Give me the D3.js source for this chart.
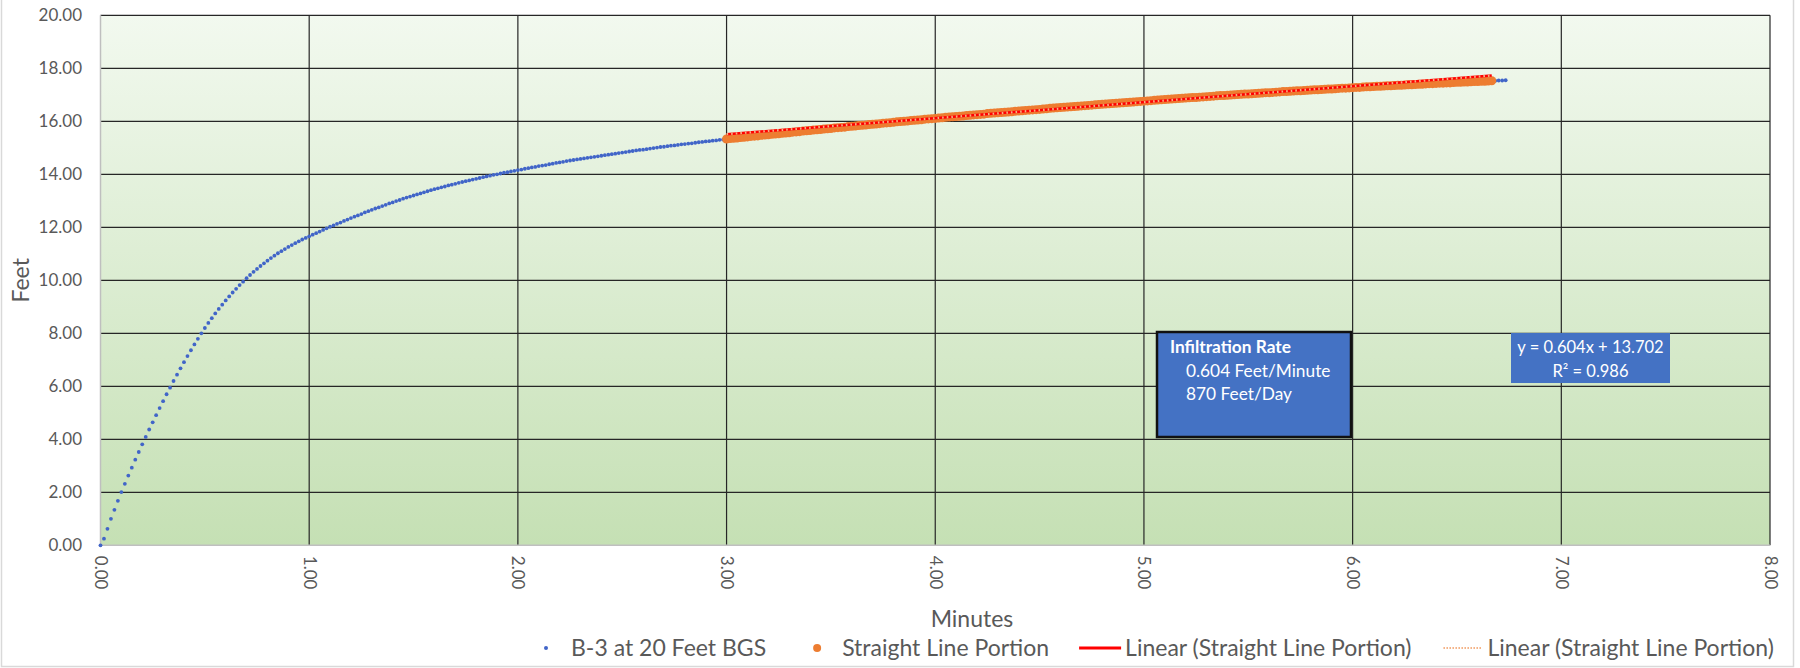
<!DOCTYPE html>
<html>
<head>
<meta charset="utf-8">
<script src="https://cdn.jsdelivr.net/npm/d3@7"></script>
<style>
  body { margin: 0; background: #fff; }
  text { font-family: Lato, "Open Sans", sans-serif; }
</style>
</head>
<body>
<svg id="chart"></svg>
<script>
// readings taken once per second (feet)
const sampleSeconds = 1;
const depthFeet = [
  0.00, 0.25, 0.62, 1.00, 1.34, 1.68, 2.01, 2.32, 2.63, 2.93, 3.23, 3.52, 3.81, 4.09, 4.37, 4.64, 4.91, 5.18, 5.44, 5.70,
  5.95, 6.20, 6.44, 6.68, 6.91, 7.14, 7.36, 7.58, 7.79, 8.00, 8.20, 8.39, 8.57, 8.75, 8.92, 9.08, 9.24, 9.39, 9.54, 9.68,
  9.82, 9.95, 10.08, 10.20, 10.32, 10.43, 10.54, 10.64, 10.74, 10.84, 10.93, 11.02, 11.10, 11.18, 11.26, 11.33, 11.40, 11.47, 11.54, 11.60,
  11.66, 11.72, 11.78, 11.84, 11.90, 11.96, 12.02, 12.07, 12.13, 12.18, 12.24, 12.29, 12.35, 12.40, 12.45, 12.50, 12.56, 12.61, 12.66, 12.71,
  12.75, 12.80, 12.85, 12.90, 12.94, 12.99, 13.03, 13.08, 13.12, 13.16, 13.20, 13.24, 13.28, 13.32, 13.36, 13.40, 13.44, 13.47, 13.51, 13.54,
  13.58, 13.61, 13.64, 13.68, 13.71, 13.74, 13.77, 13.80, 13.83, 13.86, 13.89, 13.92, 13.95, 13.98, 14.00, 14.03, 14.06, 14.08, 14.11, 14.13,
  14.16, 14.18, 14.21, 14.23, 14.26, 14.28, 14.31, 14.33, 14.35, 14.38, 14.40, 14.43, 14.45, 14.47, 14.50, 14.52, 14.54, 14.56, 14.58, 14.60,
  14.62, 14.64, 14.66, 14.68, 14.70, 14.72, 14.74, 14.76, 14.78, 14.80, 14.82, 14.84, 14.86, 14.88, 14.90, 14.92, 14.93, 14.95, 14.97, 14.99,
  15.01, 15.03, 15.04, 15.06, 15.08, 15.09, 15.11, 15.13, 15.14, 15.16, 15.17, 15.19, 15.21, 15.22, 15.24, 15.25, 15.27, 15.28, 15.30, 15.31,
  15.33, 15.35, 15.36, 15.37, 15.39, 15.40, 15.41, 15.43, 15.44, 15.45, 15.47, 15.48, 15.49, 15.51, 15.52, 15.53, 15.55, 15.56, 15.57, 15.59,
  15.60, 15.61, 15.63, 15.64, 15.65, 15.67, 15.68, 15.69, 15.71, 15.72, 15.73, 15.75, 15.76, 15.77, 15.78, 15.80, 15.81, 15.82, 15.84, 15.85,
  15.86, 15.88, 15.89, 15.90, 15.91, 15.93, 15.94, 15.95, 15.96, 15.98, 15.99, 16.00, 16.01, 16.03, 16.04, 16.05, 16.06, 16.08, 16.09, 16.10,
  16.11, 16.12, 16.13, 16.15, 16.16, 16.17, 16.18, 16.19, 16.20, 16.22, 16.23, 16.24, 16.25, 16.26, 16.27, 16.29, 16.30, 16.31, 16.32, 16.33,
  16.34, 16.35, 16.36, 16.38, 16.39, 16.40, 16.41, 16.42, 16.43, 16.44, 16.45, 16.46, 16.47, 16.49, 16.50, 16.51, 16.52, 16.53, 16.54, 16.55,
  16.56, 16.57, 16.58, 16.59, 16.60, 16.61, 16.62, 16.63, 16.64, 16.65, 16.66, 16.67, 16.68, 16.69, 16.70, 16.71, 16.72, 16.73, 16.74, 16.75,
  16.76, 16.77, 16.78, 16.79, 16.80, 16.81, 16.82, 16.83, 16.84, 16.85, 16.86, 16.87, 16.88, 16.89, 16.90, 16.90, 16.91, 16.92, 16.93, 16.94,
  16.95, 16.96, 16.97, 16.97, 16.98, 16.99, 17.00, 17.01, 17.02, 17.03, 17.03, 17.04, 17.05, 17.06, 17.07, 17.08, 17.08, 17.09, 17.10, 17.11,
  17.12, 17.12, 17.13, 17.14, 17.15, 17.15, 17.16, 17.17, 17.18, 17.19, 17.19, 17.20, 17.21, 17.22, 17.22, 17.23, 17.24, 17.25, 17.25, 17.26,
  17.27, 17.28, 17.28, 17.29, 17.30, 17.30, 17.31, 17.32, 17.32, 17.33, 17.34, 17.34, 17.35, 17.36, 17.36, 17.37, 17.38, 17.38, 17.39, 17.40,
  17.40, 17.41, 17.42, 17.42, 17.43, 17.44, 17.44, 17.45, 17.45, 17.46, 17.47, 17.47, 17.48, 17.48, 17.49, 17.50, 17.50, 17.51, 17.51, 17.52,
  17.53, 17.53, 17.54, 17.54, 17.55
];
// straight line portion = seconds 180..400 of the same record
const straightStartSec = 180, straightEndSec = 400;

const trendSlope = 0.604, trendIntercept = 13.702, rSquared = 0.986;
const infiltrationLines = ["Infiltration Rate", "0.604 Feet/Minute", "870 Feet/Day"];

const xTicks = [0, 1, 2, 3, 4, 5, 6, 7, 8];
const yTicks = [0, 2, 4, 6, 8, 10, 12, 14, 16, 18, 20];
const legendLabels = ["B-3 at 20 Feet BGS", "Straight Line Portion", "Linear (Straight Line Portion)", "Linear (Straight Line Portion)"];

const width = 1800, height = 668;
const margin = {top: 15.3, right: 30, bottom: 122.7, left: 100.5};
const blue = "#4165c8", orange = "#ED7D31", red = "#FF0000", textGray = "#595959";

const allPoints = depthFeet.map((v, i) => ({min: i * sampleSeconds / 60, ft: v}));
const straightPoints = allPoints.filter((d, i) => i * sampleSeconds >= straightStartSec && i * sampleSeconds <= straightEndSec);

const svg = d3.select("#chart").attr("width", width).attr("height", height);

const x = d3.scaleLinear().domain([0, 8]).range([margin.left, width - margin.right]);
const y = d3.scaleLinear().domain([0, 20]).range([height - margin.bottom, margin.top]);

// background gradient of the plot area
const grad = svg.append("defs").append("linearGradient")
    .attr("id", "plotBg").attr("x1", 0).attr("y1", 0).attr("x2", 0).attr("y2", 1);
grad.append("stop").attr("offset", "0%").attr("stop-color", "#f2f9ef");
grad.append("stop").attr("offset", "100%").attr("stop-color", "#c5e0b4");

// outer chart border
svg.append("rect")
    .attr("x", 1.5).attr("y", -20).attr("width", 1792).attr("height", 686.5)
    .attr("fill", "none").attr("stroke", "#d9d9d9").attr("stroke-width", 1.5);

svg.append("rect")
    .attr("x", x(0)).attr("y", y(20))
    .attr("width", x(8) - x(0)).attr("height", y(0) - y(20))
    .attr("fill", "url(#plotBg)");

// gridlines
svg.append("g").selectAll("line")
    .data(yTicks.filter(d => d > 0))
    .enter().append("line")
    .attr("x1", x(0)).attr("x2", x(8))
    .attr("y1", d => y(d)).attr("y2", d => y(d))
    .attr("stroke", "#262626").attr("stroke-width", 1.2);

svg.append("g").selectAll("line")
    .data(xTicks.filter(d => d > 0))
    .enter().append("line")
    .attr("x1", d => x(d)).attr("x2", d => x(d))
    .attr("y1", y(0)).attr("y2", y(20))
    .attr("stroke", "#262626").attr("stroke-width", 1.2);

// axis lines
svg.append("line").attr("x1", x(0)).attr("x2", x(8)).attr("y1", y(0)).attr("y2", y(0))
    .attr("stroke", "#bfbfbf").attr("stroke-width", 1.5);
svg.append("line").attr("x1", x(0)).attr("x2", x(0)).attr("y1", y(0)).attr("y2", y(20))
    .attr("stroke", "#bfbfbf").attr("stroke-width", 1.5);

// y axis
const yAxis = svg.append("g")
    .attr("transform", `translate(${x(0)},0)`)
    .call(d3.axisLeft(y).tickValues(yTicks).tickFormat(d3.format(".2f")).tickSize(0).tickPadding(18.5));
yAxis.select(".domain").remove();
yAxis.selectAll("text").attr("font-size", 17).attr("fill", textGray).style("font-family", "Lato");

// x axis, labels turned to read downward
const xAxis = svg.append("g")
    .attr("transform", `translate(0,${y(0)})`)
    .call(d3.axisBottom(x).tickValues(xTicks).tickFormat(d3.format(".2f")).tickSize(0));
xAxis.select(".domain").remove();
xAxis.selectAll("text")
    .attr("x", 10.5).attr("y", 0).attr("dy", "0.35em")
    .attr("transform", "rotate(90)")
    .style("text-anchor", "start").style("font-family", "Lato")
    .attr("font-size", 17).attr("fill", textGray);

// axis titles
svg.append("text")
    .attr("transform", `translate(29,${(y(0) + y(20)) / 2}) rotate(-90)`)
    .attr("text-anchor", "middle")
    .attr("font-size", 23).attr("fill", textGray)
    .text("Feet");

svg.append("text")
    .attr("x", 972).attr("y", 627)
    .attr("text-anchor", "middle")
    .attr("font-size", 23).attr("fill", textGray)
    .text("Minutes");

// series
svg.append("g").selectAll("circle")
    .data(allPoints)
    .enter().append("circle")
    .attr("cx", d => x(d.min))
    .attr("cy", d => y(d.ft))
    .attr("r", 1.9)
    .attr("fill", blue);

svg.append("g").selectAll("circle")
    .data(straightPoints)
    .enter().append("circle")
    .attr("cx", d => x(d.min))
    .attr("cy", d => y(d.ft))
    .attr("r", 4.5)
    .attr("fill", orange);

// trendlines over the straight portion
const trendExtent = d3.extent(straightPoints, d => d.min);
const trend = trendExtent.map(m => ({min: m, ft: trendSlope * m + trendIntercept}));
const trendLine = d3.line().x(d => x(d.min)).y(d => y(d.ft));

svg.append("path").datum(trend)
    .attr("d", trendLine)
    .attr("fill", "none").attr("stroke", red).attr("stroke-width", 2.5);

svg.append("path").datum(trend)
    .attr("d", trendLine)
    .attr("fill", "none").attr("stroke", "#f4b183").attr("stroke-width", 2.2)
    .attr("stroke-dasharray", "1.6 3");

// infiltration rate box
const infoBox = svg.append("g");
infoBox.append("rect")
    .attr("x", 1157).attr("y", 332).attr("width", 194).attr("height", 105)
    .attr("fill", "#4472C4").attr("stroke", "#111").attr("stroke-width", 2.5);
infoBox.selectAll("text")
    .data(infiltrationLines)
    .enter().append("text")
    .attr("x", (d, i) => i === 0 ? 1170 : 1186)
    .attr("y", (d, i) => 353 + i * 23.5)
    .attr("font-size", 17.3)
    .attr("font-weight", (d, i) => i === 0 ? "bold" : "normal")
    .attr("fill", "#fff")
    .text(d => d);

// trendline equation label
const eqBox = svg.append("g");
eqBox.append("rect")
    .attr("x", 1511).attr("y", 333).attr("width", 159).attr("height", 50)
    .attr("fill", "#4472C4");
eqBox.selectAll("text")
    .data([`y = ${trendSlope}x + ${trendIntercept}`, `R² = ${rSquared}`])
    .enter().append("text")
    .attr("x", 1590.5)
    .attr("y", (d, i) => 353 + i * 24)
    .attr("text-anchor", "middle")
    .attr("font-size", 16.5)
    .attr("fill", "#fff")
    .text(d => d);

// legend
const legend = svg.append("g");
const legendY = 648;
let textX = 571;
legendLabels.forEach((label, i) => {
    const cx = textX - 25;
    if (i === 0) {
        legend.append("circle").attr("cx", cx).attr("cy", legendY).attr("r", 2).attr("fill", blue);
    } else if (i === 1) {
        legend.append("circle").attr("cx", cx).attr("cy", legendY).attr("r", 4).attr("fill", orange);
    } else if (i === 2) {
        legend.append("line").attr("x1", cx - 21).attr("x2", cx + 21)
            .attr("y1", legendY).attr("y2", legendY)
            .attr("stroke", red).attr("stroke-width", 3);
    } else {
        legend.append("line").attr("x1", cx - 19).attr("x2", cx + 19)
            .attr("y1", legendY).attr("y2", legendY)
            .attr("stroke", "#f4b183").attr("stroke-width", 2.2)
            .attr("stroke-dasharray", "1.5 1.5");
    }
    const t = legend.append("text")
        .attr("x", textX).attr("y", legendY).attr("dy", "0.35em")
        .attr("font-size", 23).attr("fill", textGray)
        .text(label);
    textX += t.node().getComputedTextLength() + 76;
});
</script>
</body>
</html>
